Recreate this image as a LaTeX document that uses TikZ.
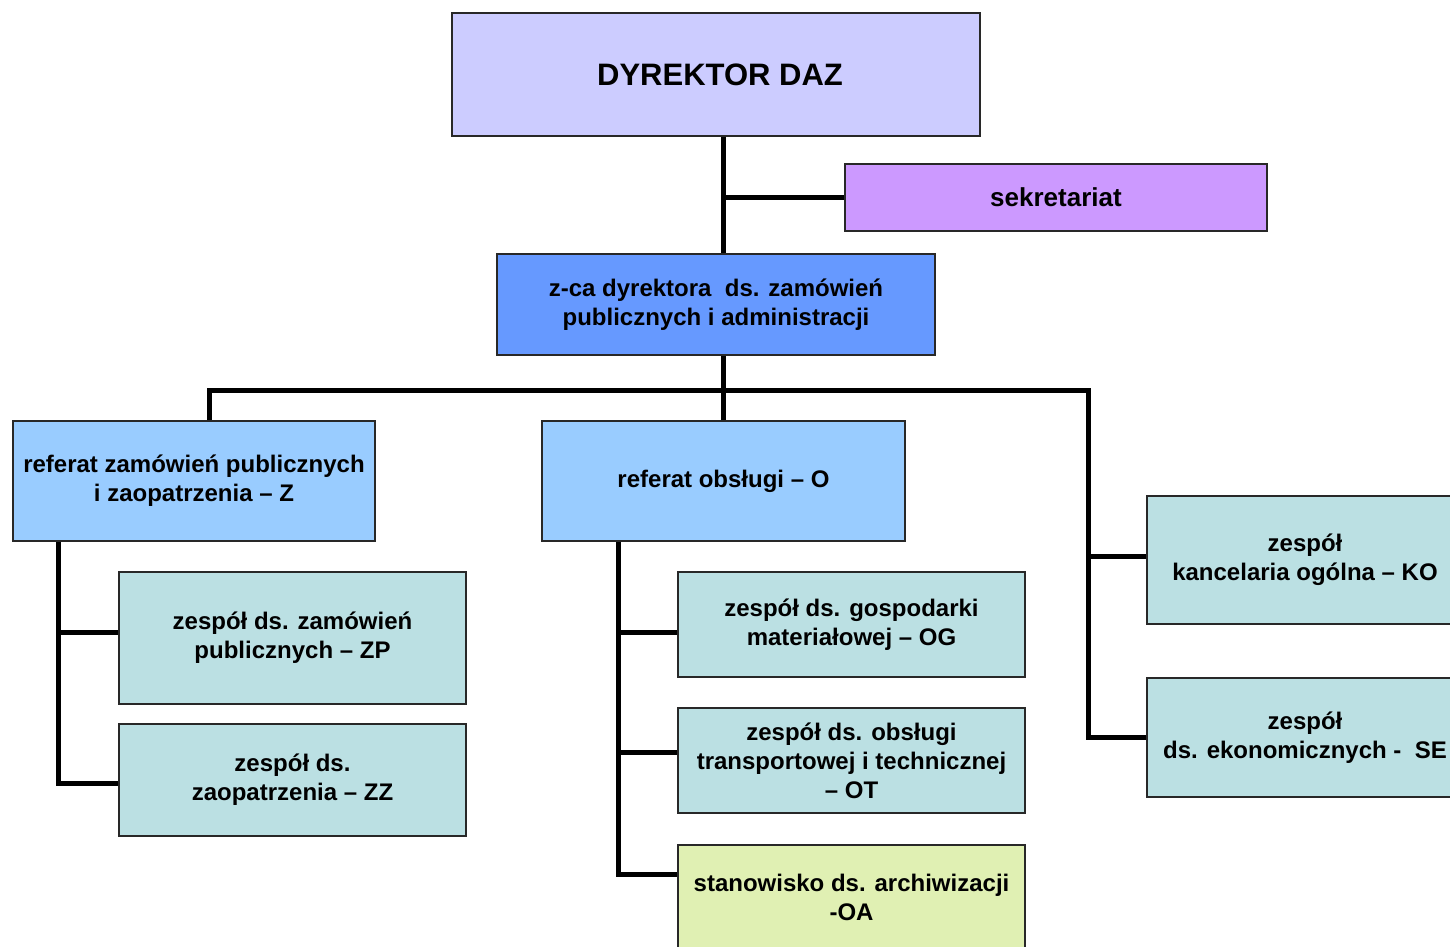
\documentclass[tikz,border=0pt]{standalone}
\usepackage{fontspec}
\setmainfont{Liberation Sans}
\usepackage{tikz}
\usepackage{xcolor}

\definecolor{dyrcol}{HTML}{CCCCFF}
\definecolor{sekcol}{HTML}{CC99FF}
\definecolor{zcacol}{HTML}{6699FF}
\definecolor{refcol}{HTML}{99CCFF}
\definecolor{zescol}{HTML}{BBE0E3}
\definecolor{stacol}{HTML}{E0F0B3}

\tikzset{
  box/.style={draw={rgb,255:red,40;green,40;blue,40}, line width=1.5pt, align=center,
    font=\bfseries\fontsize{24pt}{29pt}\selectfont, inner sep=0pt},
  conn/.style={line width=5pt, black}
}

\begin{document}
\begin{tikzpicture}[x=1pt,y=1pt,yscale=-1,xscale=1]
\useasboundingbox (0,0) rectangle (1450,947);
\clip (0,0) rectangle (1450,947);

%Shape: Rectangle -- dyrektor
\node[box, fill=dyrcol, minimum width=528pt, minimum height=123pt, font=\bfseries\fontsize{31pt}{37pt}\selectfont] (dyr) at (716,74.5) {\hspace*{8pt}DYREKTOR DAZ};
%Shape: Rectangle -- sekretariat
\node[box, fill=sekcol, minimum width=422pt, minimum height=67pt, font=\bfseries\fontsize{26pt}{31pt}\selectfont] (sek) at (1056,197.5) {sekretariat};
%Shape: Rectangle -- zastepca
\node[box, fill=zcacol, minimum width=438pt, minimum height=101pt] (zca) at (716,304.5) {z-ca dyrektora~ ds. zamówień\\publicznych i administracji};

%Shape: Rectangle -- referaty
\node[box, fill=refcol, minimum width=362pt, minimum height=120pt] (refZ) at (194,481) {referat zamówień publicznych\\i zaopatrzenia – Z};
\node[box, fill=refcol, minimum width=363pt, minimum height=120pt] (refO) at (723.5,481) {referat obsługi – O};

%Shape: Rectangle -- zespoly Z
\node[box, fill=zescol, minimum width=347pt, minimum height=132pt] (ZP) at (292.5,638) {zespół ds. zamówień\\publicznych – ZP};
\node[box, fill=zescol, minimum width=347pt, minimum height=112pt] (ZZ) at (292.5,780) {zespół ds.\\zaopatrzenia – ZZ};

%Shape: Rectangle -- zespoly O
\node[box, fill=zescol, minimum width=347pt, minimum height=105pt] (OG) at (851.5,624.5) {zespół ds. gospodarki\\materiałowej – OG};
\node[box, fill=zescol, minimum width=347pt, minimum height=105pt] (OT) at (851.5,760.5) {zespół ds. obsługi\\transportowej i technicznej\\– OT};
\node[box, fill=stacol, minimum width=347pt, minimum height=105pt] (OA) at (851.5,897.5) {stanowisko ds. archiwizacji\\-OA};

%Shape: Rectangle -- zespoly bez referatu
\node[box, fill=zescol, minimum width=316pt, minimum height=128pt] (KO) at (1305,560) {zespół\\kancelaria ogólna – KO};
\node[box, fill=zescol, minimum width=316pt, minimum height=119pt] (SE) at (1305,737.5) {zespół\\ds. ekonomicznych -~ SE};

% connectors
\coordinate (busL) at (209,390);
\coordinate (busR) at (1088,390);
\coordinate (zspine) at (58,0);
\coordinate (ospine) at (618,0);

\draw[conn] ([xshift=7pt]dyr.south) -- ([xshift=7pt]dyr.south |- zca.north);
\draw[conn] ([xshift=7pt]dyr.south |- sek.west) -- (sek.west);
\draw[conn] ([xshift=7pt]zca.south) -- ([xshift=7pt]zca.south |- busL);
\draw[conn] (busL |- refZ.north) -- (busL) -- (busR) -- (busR |- SE.west) -- (SE.west);
\draw[conn] (refO.north) -- (refO.north |- busL);
\draw[conn] ([yshift=-4pt]busR |- KO.west) -- ([yshift=-4pt]KO.west);

\draw[conn] (zspine |- refZ.south) -- ([yshift=3pt]zspine |- ZZ.west) -- ([yshift=3pt]ZZ.west);
\draw[conn] ([yshift=-6pt]zspine |- ZP.west) -- ([yshift=-6pt]ZP.west);

\draw[conn] (ospine |- refO.south) -- ([yshift=-23.5pt]ospine |- OA.west) -- ([yshift=-23.5pt]OA.west);
\draw[conn] ([yshift=7.5pt]ospine |- OG.west) -- ([yshift=7.5pt]OG.west);
\draw[conn] ([yshift=-8.5pt]ospine |- OT.west) -- ([yshift=-8.5pt]OT.west);

\end{tikzpicture}
\end{document}
